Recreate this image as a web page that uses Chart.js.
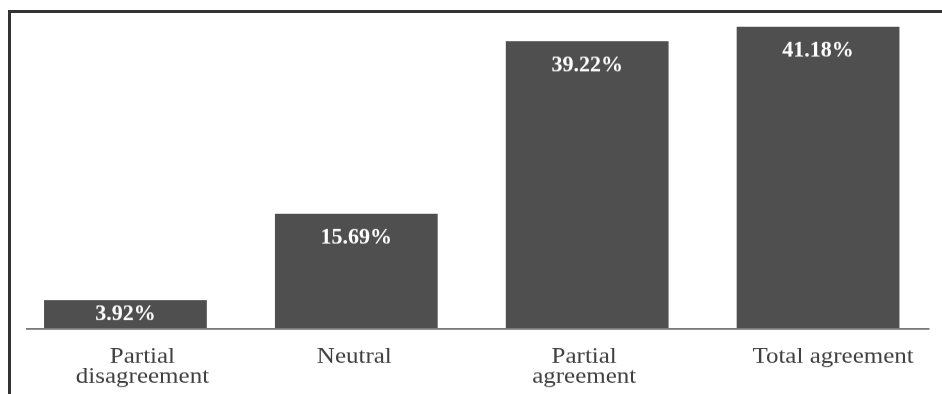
<!DOCTYPE html>
<html>
<head>
<meta charset="utf-8">
<script src="https://cdn.jsdelivr.net/npm/chart.js@4/dist/chart.umd.min.js"></script>
<style>
  html, body { margin: 0; padding: 0; background: #fff; overflow: hidden; }
  .frame {
    position: absolute; left: 8px; top: 10px; right: 0; bottom: 0;
    border-top: 3px solid #333; border-left: 3px solid #333;
  }
  /* chart is laid out taller, then squeezed to the 394px page */
  #chart { position: absolute; left: 0; top: 0; transform: scaleY(0.87); transform-origin: 0 0; }
  .font-warm { position: absolute; left: -999px; font-family: 'Liberation Serif'; }
</style>
</head>
<body>
<div class="frame"></div>
<span class="font-warm">Partial <b>41.18%</b></span>
<canvas id="chart" width="942" height="453"></canvas>
<script>
// Data ------------------------
const categories = [['Partial', 'disagreement'], 'Neutral', ['Partial', 'agreement'], 'Total agreement'];
const shares = [3.92, 15.69, 39.22, 41.18];
const valueLabels = ['3.92%', '15.69%', '39.22%', '41.18%'];

// Constants -------------------
const BAR_COLOR = '#4f4f4f';
const SERIF = '"Liberation Serif", serif';
const SQUEEZE = 0.87;
// category labels sit a little off their bar centres
const LABEL_NUDGE = [17, -2, -3, 15];

const labelNudge = {
  id: 'labelNudge',
  beforeDraw(chart) {
    const xScale = chart.scales.x;
    xScale.getLabelItems(chart.chartArea).forEach((item, i) => {
      item.options.translation[0] += LABEL_NUDGE[i] || 0;
    });
  },
};

// baseline and the value text inside the top of each bar
const valueText = {
  id: 'valueText',
  afterDatasetsDraw(chart) {
    const { ctx } = chart;
    const zeroY = chart.scales.y.getPixelForValue(0);
    ctx.save();
    ctx.strokeStyle = '#7a7a7a';
    ctx.lineWidth = 2;
    ctx.beginPath();
    ctx.moveTo(chart.chartArea.left + 16, zeroY);
    ctx.lineTo(chart.chartArea.right - 4, zeroY);
    ctx.stroke();

    ctx.fillStyle = '#fff';
    ctx.font = `bold 22px ${SERIF}`;
    ctx.textAlign = 'center';
    ctx.textBaseline = 'middle';
    chart.getDatasetMeta(0).data.forEach((bar, i) => {
      const ty = Math.min(bar.y + 28, (bar.y + bar.base) / 2);
      ctx.save();
      ctx.translate(bar.x, ty);
      ctx.scale(1, 1 / SQUEEZE);
      ctx.fillText(valueLabels[i], 0, 0);
      ctx.restore();
    });
    ctx.restore();
  },
};

const $chart = document.getElementById('chart');

const drawChart = () =>
  new Chart($chart, {
    type: 'bar',
    data: {
      labels: categories,
      datasets: [
        {
          data: shares,
          backgroundColor: BAR_COLOR,
          borderWidth: 0,
          barPercentage: 0.705,
          categoryPercentage: 1,
        },
      ],
    },
    options: {
      responsive: false,
      animation: false,
      devicePixelRatio: 1,
      layout: { padding: { left: 10, right: 8.5, top: 7, bottom: 0 } },
      plugins: { legend: { display: false }, tooltip: { enabled: false } },
      scales: {
        x: {
          grid: { display: false, drawTicks: false },
          border: { display: false },
          ticks: {
            color: '#404040',
            padding: 21,
            maxRotation: 0,
            autoSkip: false,
            font: { family: SERIF, size: 25, lineHeight: '23px' },
          },
          afterFit(scale) {
            scale.height = 75;
          },
        },
        y: {
          display: false,
          min: 0,
          max: 44,
        },
      },
    },
    plugins: [labelNudge, valueText],
  });

Promise.all([
  document.fonts.load('25px "Liberation Serif"'),
  document.fonts.load('bold 22px "Liberation Serif"'),
])
  .catch(() => {})
  .then(drawChart);
</script>
</body>
</html>
